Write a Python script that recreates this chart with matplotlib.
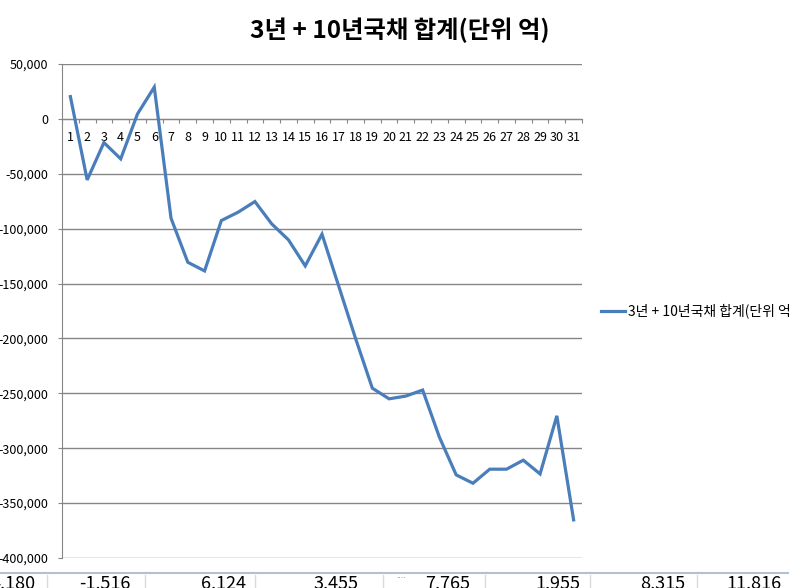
import matplotlib
matplotlib.use('Agg')
import matplotlib.pyplot as plt
from matplotlib.lines import Line2D
from matplotlib.ticker import FuncFormatter, FixedLocator

plt.rcParams['font.family'] = ['Noto Sans CJK KR', 'DejaVu Sans']

# data (unit: 억)
days = list(range(1, 32))
bond_total = [20300, -55600, -21600, -36400, 4500, 28900, -90500, -130600, -138500,
              -92600, -85000, -75300, -95600, -110200, -133900, -105000, -152500,
              -200000, -245300, -255000, -252500, -247000, -290000, -324300,
              -331900, -319100, -319100, -310900, -323400, -270500, -365300]
series_name = '3년 + 10년국채 합계(단위 억)'
title = '3년 + 10년국채 합계(단위 억)'
y_ticks = list(range(-400000, 50001, 50000))

# spreadsheet row visible under the chart
cell_values = ['4,180', '-1,516', '6,124', '3,455', '7,765', '1,955', '8,315', '11,816']
cell_right_px = [36, 131, 246, 358, 470, 580, 685, 781]
cell_borders_px = [47, 145, 255, 383, 485, 590, 697]

W, H = 789, 588
fig = plt.figure(figsize=(W / 100, H / 100), dpi=100)
ax = fig.add_axes([62 / W, 1 - 558 / H, (582 - 62) / W, (558 - 64) / H])

grid_c = '#868686'
line_c = '#4A7EBB'

ax.plot(days, bond_total, color=line_c, linewidth=2.3, solid_joinstyle='miter',
        label=series_name, zorder=3)

ax.set_xlim(0.5, 31.5)
ax.set_ylim(-400000, 50000)
ax.set_yticks(y_ticks)
ax.yaxis.set_major_formatter(FuncFormatter(lambda v, p: f'{int(v):,}'))
ax.grid(axis='y', color=grid_c, linewidth=1.0)
ax.set_axisbelow(True)

for s in ['top', 'right']:
    ax.spines[s].set_visible(False)
ax.spines['left'].set_color(grid_c)
ax.spines['bottom'].set_color(grid_c)
ax.spines['bottom'].set_position(('data', 0))

ax.tick_params(axis='y', length=3, color=grid_c, labelsize=9, pad=7)
ax.xaxis.set_major_locator(FixedLocator([d + 0.5 for d in [0] + days]))
ax.xaxis.set_minor_locator(FixedLocator(days))
ax.set_xticklabels([], minor=False)
ax.set_xticklabels([str(d) for d in days], minor=True)
ax.tick_params(axis='x', which='major', length=3, direction='out', color=grid_c)
ax.tick_params(axis='x', which='minor', length=0, labelsize=9, pad=9)

fig.text(400 / W, 1 - 30 / H, title, ha='center', va='center',
         fontsize=17.5, fontweight='bold')

ax.legend(loc='center left', bbox_to_anchor=(601 / W, 1 - 311 / H),
          bbox_transform=fig.transFigure, frameon=False, fontsize=10,
          handlelength=1.75, handletextpad=0.2, borderpad=0, borderaxespad=0)

# spreadsheet strip
fig.add_artist(Line2D([0, 1], [1 - 573 / H] * 2, color='#b4c0d0', linewidth=1.5))
for bx in cell_borders_px:
    fig.add_artist(Line2D([bx / W] * 2, [0, 1 - 575 / H], color='#d8dadc', linewidth=1))
for val, rx in zip(cell_values, cell_right_px):
    fig.text(rx / W, 1 - 575 / H, val, ha='right', va='top', fontsize=13)
fig.text(396 / W, 1 - 571 / H, '....', ha='left', va='top', fontsize=6, color='#777777')

fig.savefig('out.png', dpi=100)
